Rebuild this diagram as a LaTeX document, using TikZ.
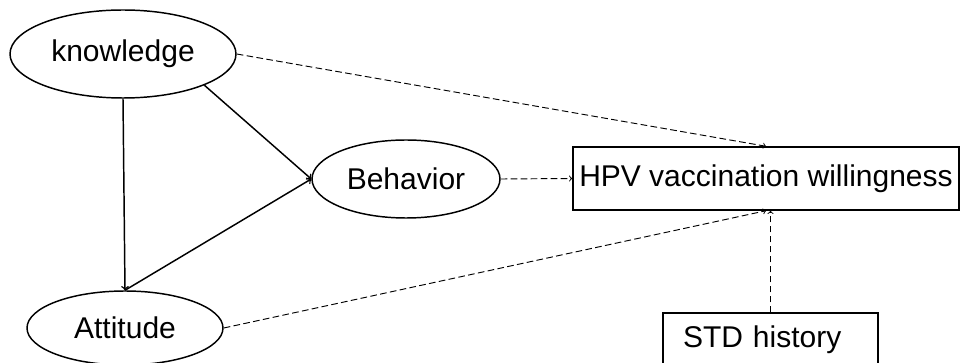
\documentclass[tikz,border=0pt]{standalone}
\usepackage{fontspec}
\setmainfont{Liberation Sans}
\usetikzlibrary{shapes.geometric}

\begin{document}
\begin{tikzpicture}[x=0.75pt, y=-0.75pt,
     every node/.style={font=\fontsize{22.5}{27}\selectfont, inner sep=0pt},
     latent/.style={ellipse, draw, line width=1.1pt},
     observed/.style={rectangle, draw, line width=1.1pt},
     solidarrow/.style={->, line width=1.1pt},
     dashedarrow/.style={->, line width=0.7pt, dash pattern=on 5pt off 2.5pt}]
     \useasboundingbox (0,0) rectangle (960,363);
     \node[latent, minimum width=169.5pt, minimum height=66pt] (know) at (123,54) {knowledge};
     \node[latent, minimum width=147pt, minimum height=55.5pt] (att) at (125,328) {Attitude};
     \node[latent, minimum width=141pt, minimum height=58.5pt] (beh) at (406,179) {Behavior};
     \node[observed, minimum width=289.5pt, minimum height=47.25pt] (hpv) at (766,178.5) {HPV vaccination willingness};
     \node[observed, text width=131.25pt, align=left, inner xsep=15pt, minimum height=40.5pt] (std) at (770.5,340) {STD history};

     \draw[solidarrow] (know.south) -- (att.north);
     \draw[solidarrow] (know.-21) -- (beh.west);
     \draw[solidarrow] (att.north) -- (beh.west);
     \draw[dashedarrow] (know.east) -- (hpv.north);
     \draw[dashedarrow] (beh.east) -- (hpv.west);
     \draw[dashedarrow] (att.east) -- (hpv.south);
     \draw[dashedarrow] (std.north) -- (std.north |- hpv.south);
\end{tikzpicture}
\end{document}
